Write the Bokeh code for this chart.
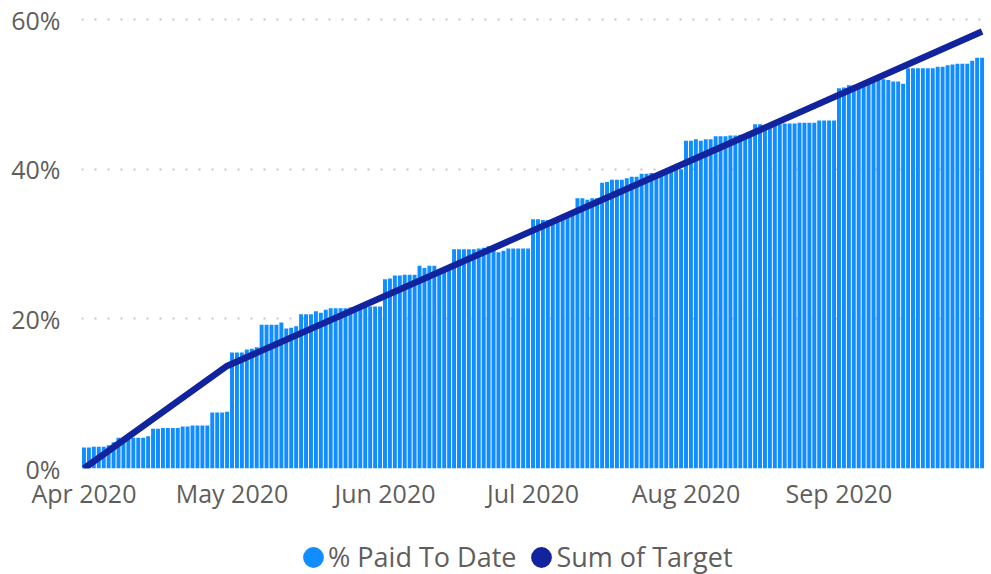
import numpy as np
import pandas as pd
from bokeh.plotting import figure
from bokeh.layouts import column
from bokeh.models import (Range1d, FixedTicker, DatetimeTickFormatter, PrintfTickFormatter,
                          Legend, LegendItem, ColumnDataSource)
from bokeh.embed import file_html
from bokeh.resources import INLINE

# ---------------- data ----------------
start_date = "2020-04-01"
end_date = "2020-09-30"

paid_apr = [2.8, 2.8, 2.9, 2.9, 2.9, 3.1, 3.5, 4.1, 4.0, 4.1, 4.1, 4.1, 4.1, 4.3, 5.3,
            5.3, 5.4, 5.4, 5.4, 5.4, 5.6, 5.6, 5.75, 5.75, 5.75, 5.75, 7.5, 7.5, 7.5, 7.6]
paid_may = [15.5, 15.5, 15.5, 15.9, 16.0, 16.2, 19.2, 19.2, 19.2, 19.2, 19.5, 18.7, 18.8,
            19.0, 20.6, 20.6, 20.6, 21.0, 20.8, 21.2, 21.4, 21.4, 21.4, 21.4, 21.5, 21.5,
            21.65, 21.65, 21.65, 21.65, 21.65]
paid_jun = [25.3, 25.4, 25.8, 25.8, 25.9, 25.9, 25.9, 27.1, 26.8, 27.1, 27.1, 26.4, 26.5,
            26.6, 29.3, 29.3, 29.3, 29.3, 29.3, 29.4, 29.5, 29.7, 29.8, 28.9, 29.1, 29.4,
            29.4, 29.4, 29.4, 29.4]
paid_jul = [33.3, 33.3, 33.2, 33.2, 33.3, 33.4, 33.5, 34.1, 34.3, 36.1, 36.1, 35.9, 36.1,
            36.1, 38.2, 38.3, 38.6, 38.6, 38.6, 38.8, 39.0, 39.0, 39.4, 39.4, 39.5, 39.5,
            39.3, 39.6, 39.7, 40.0, 40.0]
paid_aug = [43.8, 43.8, 44.0, 43.8, 44.0, 44.0, 44.4, 44.4, 44.4, 44.5, 44.5, 44.6, 44.7,
            44.8, 46.0, 46.0, 45.7, 45.7, 45.8, 46.0, 46.1, 46.1, 46.1, 46.2, 46.2, 46.2,
            46.2, 46.5, 46.5, 46.5, 46.5]
paid_sep = [50.8, 50.9, 51.2, 51.2, 51.3, 51.5, 51.6, 51.7, 51.9, 52.0, 51.9, 51.7, 51.7,
            51.4, 53.5, 53.5, 53.5, 53.5, 53.5, 53.5, 53.7, 53.7, 53.9, 54.0, 54.1, 54.1,
            54.1, 54.5, 54.9, 54.9]

target_dates = ["2020-04-01", "2020-04-30", "2020-09-30"]
target_values = [0.0, 13.7, 58.4]

month_ticks = ["2020-04-01", "2020-05-01", "2020-06-01", "2020-07-01", "2020-08-01", "2020-09-01"]
y_ticks = [0, 20, 40, 60]

series_names = ["% Paid To Date", "Sum of Target"]
bar_color = "#118DFF"
line_color = "#12239E"
text_color = "#605E5C"
FONT = "Open Sans"

# ---------------- build ----------------
paid = paid_apr + paid_may + paid_jun + paid_jul + paid_aug + paid_sep
dates = pd.date_range(start_date, end_date, freq="D")
src = ColumnDataSource(dict(date=dates, paid=paid))
tsrc = ColumnDataSource(dict(date=pd.to_datetime(target_dates), target=target_values))

DAY = pd.Timedelta(days=1)
x0 = pd.Timestamp(start_date) - DAY / 2
x1 = pd.Timestamp(end_date) + DAY / 2 + DAY * 0.8

p = figure(width=991, height=520, x_axis_type="datetime", output_backend="svg",
           toolbar_location=None,
           x_range=Range1d(x0, x1), y_range=Range1d(0, 61.07),
           min_border_left=81, min_border_right=3, min_border_top=11, min_border_bottom=52)
p.outline_line_color = None
p.background_fill_color = "white"
p.border_fill_color = "white"

p.vbar(x="date", top="paid", width=0.8 * 86400000, source=src,
       fill_color=bar_color, line_color=None)
p.line(x="date", y="target", source=tsrc, line_color=line_color, line_width=6.5,
       line_join="round")

# axes
p.xaxis.ticker = FixedTicker(ticks=[pd.Timestamp(d).value / 1e6 for d in month_ticks])
p.xaxis.formatter = DatetimeTickFormatter(days="%b %Y", months="%b %Y", years="%b %Y",
                                          hours="%b %Y", context=None)
p.yaxis.ticker = FixedTicker(ticks=y_ticks)
p.yaxis.formatter = PrintfTickFormatter(format="%d%%")
for ax in (p.xaxis[0], p.yaxis[0]):
    ax.axis_line_color = None
    ax.major_tick_line_color = None
    ax.minor_tick_line_color = None
    ax.major_tick_out = 0
    ax.major_tick_in = 0
    ax.major_label_text_font = FONT
    ax.major_label_text_font_size = "25px"
    ax.major_label_text_color = text_color
p.yaxis.major_label_standoff = 21
p.xaxis.major_label_standoff = 7

p.xgrid.visible = False
p.ygrid.grid_line_color = "#C8C6C4"
p.ygrid.grid_line_width = 2
p.ygrid.grid_line_dash = "2 11"

# legend strip (own small figure so the legend is not clipped)
p2 = figure(width=991, height=54, output_backend="svg", toolbar_location=None,
            x_range=Range1d(0, 1), y_range=Range1d(0, 1),
            x_axis_location=None, y_axis_location=None,
            min_border_left=0, min_border_right=0, min_border_top=0, min_border_bottom=0)
p2.outline_line_color = None
p2.xgrid.visible = False
p2.ygrid.visible = False
p2.border_fill_color = "white"
p2.background_fill_color = "white"

nan_src1 = ColumnDataSource(dict(x=[0.5], y=[np.nan]))
nan_src2 = ColumnDataSource(dict(x=[0.5], y=[np.nan]))
r1 = p2.ellipse("x", "y", source=nan_src1, width=10, height=10,
                width_units="screen", height_units="screen",
                fill_color=bar_color, line_color=None)
r2 = p2.ellipse("x", "y", source=nan_src2, width=10, height=10,
                width_units="screen", height_units="screen",
                fill_color=line_color, line_color=None)
legend = Legend(items=[LegendItem(label=series_names[0], renderers=[r1]),
                       LegendItem(label=series_names[1], renderers=[r2])],
                orientation="horizontal", location=(219, -1),
                glyph_width=26, glyph_height=26, label_standoff=2, spacing=12,
                padding=0, margin=0, border_line_color=None, background_fill_alpha=0,
                label_text_font=FONT, label_text_font_size="27px",
                label_text_color=text_color)
p2.add_layout(legend, "center")

layout = column(p, p2, spacing=0)
open("out.html", "w").write(file_html(layout, INLINE))
